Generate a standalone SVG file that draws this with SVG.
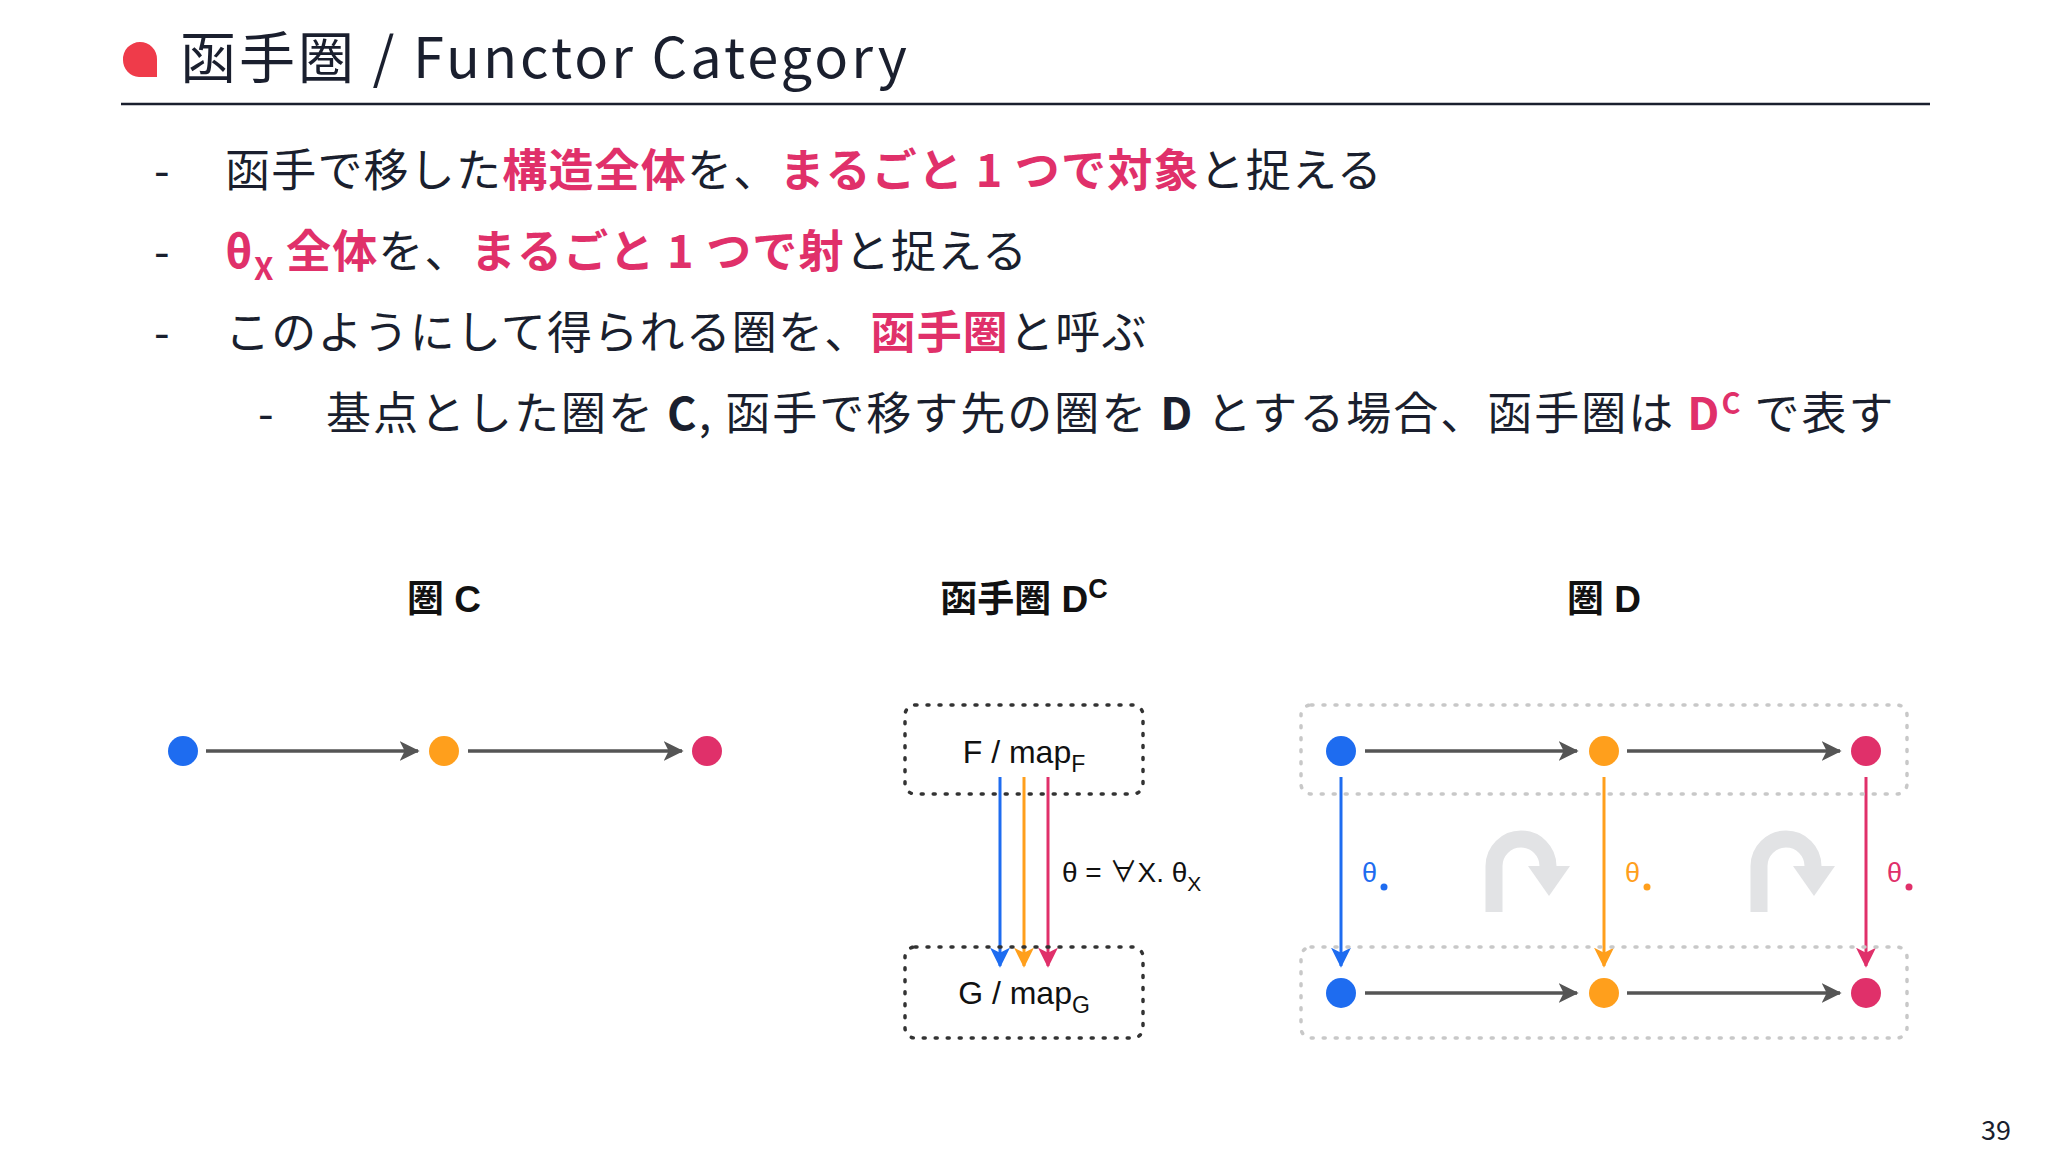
<svg xmlns="http://www.w3.org/2000/svg" width="2048" height="1152" viewBox="0 0 2048 1152">
<style>
.jp{font-family:"Noto Sans CJK JP","Noto Sans",sans-serif;fill:#1a1f2e}
.b{font-weight:bold}
.pk{fill:#e0306a;font-weight:bold}
.lab{font-family:"Liberation Sans",Arial,"Noto Sans CJK JP",sans-serif;fill:#111}
.edge{stroke:#555;stroke-width:3.5;fill:none;marker-end:url(#ag)}
.box{fill:none;stroke:#333;stroke-width:3.5;stroke-dasharray:2 10;stroke-linecap:round}
.gbox{fill:none;stroke:#c8c8c8;stroke-width:3.5;stroke-dasharray:2 10;stroke-linecap:round}
.curl{fill:none;stroke:#e2e3e5;stroke-width:17}
</style>
<defs>
<marker id="ag" viewBox="0 0 12 12" refX="11" refY="6" markerWidth="20" markerHeight="20" orient="auto" markerUnits="userSpaceOnUse"><path d="M0,0 L12,6 L0,12 L3,6 Z" fill="#555"/></marker>
<marker id="ab" viewBox="0 0 12 12" refX="11" refY="6" markerWidth="20" markerHeight="20" orient="auto" markerUnits="userSpaceOnUse"><path d="M0,0 L12,6 L0,12 L3,6 Z" fill="#1e6cf0"/></marker>
<marker id="ao" viewBox="0 0 12 12" refX="11" refY="6" markerWidth="20" markerHeight="20" orient="auto" markerUnits="userSpaceOnUse"><path d="M0,0 L12,6 L0,12 L3,6 Z" fill="#ff9f1c"/></marker>
<marker id="ar" viewBox="0 0 12 12" refX="11" refY="6" markerWidth="20" markerHeight="20" orient="auto" markerUnits="userSpaceOnUse"><path d="M0,0 L12,6 L0,12 L3,6 Z" fill="#e0306a"/></marker>
</defs>
<rect width="2048" height="1152" fill="#fff"/>
<g id="title">
<path d="M140,42 a17,17 0 0 1 17,17 v18 h-18 a17,17 0 0 1 -16,-17 a17,17 0 0 1 17,-18 z" fill="#ef3b4a"/>
<text x="180" y="78" class="jp" font-size="56" letter-spacing="3">函手圏 / Functor Category</text>
<line x1="121" y1="104" x2="1930" y2="104" stroke="#1a1f2e" stroke-width="2.5"/>
</g>
<g id="bullets" font-size="45" letter-spacing="1.2">
<text x="154" y="187" class="jp">-</text>
<text x="225" y="187" class="jp">函手で移した<tspan class="pk">構造全体</tspan>を、<tspan class="pk">まるごと 1 つで対象</tspan>と捉える</text>
<text x="154" y="268" class="jp">-</text>
<text x="225" y="268" class="jp"><tspan class="pk">θ</tspan><tspan class="pk" font-size="31" dy="12">X</tspan><tspan class="pk" dy="-12"> 全体</tspan>を、<tspan class="pk">まるごと 1 つで射</tspan>と捉える</text>
<text x="154" y="349" class="jp">-</text>
<text x="225" y="349" class="jp">このようにして得られる圏を、<tspan class="pk">函手圏</tspan>と呼ぶ</text>
<text x="258" y="430" class="jp">-</text>
<text x="326" y="430" class="jp" letter-spacing="2">基点とした圏を <tspan class="b">C</tspan>,  函手で移す先の圏を <tspan class="b">D</tspan> とする場合、函手圏は <tspan class="pk">D</tspan><tspan class="pk" font-size="29" dy="-16">C</tspan><tspan dy="16"> で表す</tspan></text>
</g>
<g id="headings" font-size="37" font-weight="bold">
<text x="444" y="612" text-anchor="middle" class="lab">圏 C</text>
<text x="1024" y="612" text-anchor="middle" class="lab">函手圏 D<tspan font-size="27" dy="-14">C</tspan></text>
<text x="1604" y="612" text-anchor="middle" class="lab">圏 D</text>
</g>
<g id="connectors">
<line x1="206" y1="751" x2="418" y2="751" class="edge"/>
<line x1="468" y1="751" x2="682" y2="751" class="edge"/>
<line x1="1000" y1="777" x2="1000" y2="966" stroke="#1e6cf0" stroke-width="3" marker-end="url(#ab)"/>
<line x1="1024" y1="777" x2="1024" y2="966" stroke="#ff9f1c" stroke-width="3" marker-end="url(#ao)"/>
<line x1="1048" y1="777" x2="1048" y2="966" stroke="#e0306a" stroke-width="3" marker-end="url(#ar)"/>
<line x1="1365" y1="751" x2="1577" y2="751" class="edge"/>
<line x1="1627" y1="751" x2="1840" y2="751" class="edge"/>
<line x1="1365" y1="993" x2="1577" y2="993" class="edge"/>
<line x1="1627" y1="993" x2="1840" y2="993" class="edge"/>
<line x1="1341" y1="777" x2="1341" y2="966" stroke="#1e6cf0" stroke-width="3" marker-end="url(#ab)"/>
<line x1="1604" y1="777" x2="1604" y2="966" stroke="#ff9f1c" stroke-width="3" marker-end="url(#ao)"/>
<line x1="1866" y1="777" x2="1866" y2="966" stroke="#e0306a" stroke-width="3" marker-end="url(#ar)"/>
</g>
<g id="catC">
<circle cx="183" cy="751" r="15" fill="#1e6cf0"/>
<circle cx="444" cy="751" r="15" fill="#ff9f1c"/>
<circle cx="707" cy="751" r="15" fill="#e0306a"/>
</g>
<g id="nodeF">
<rect x="905" y="705" width="238" height="89" rx="10" class="box"/>
<text x="1024" y="763" text-anchor="middle" class="lab" font-size="32">F / map<tspan font-size="23" dy="9">F</tspan></text>
</g>
<g id="nodeG">
<rect x="905" y="947" width="238" height="91" rx="10" class="box"/>
<text x="1024" y="1004" text-anchor="middle" class="lab" font-size="32">G / map<tspan font-size="23" dy="9">G</tspan></text>
</g>
<text x="1062" y="882" class="lab" font-size="28">θ = ∀X. θ<tspan font-size="21" dy="9">X</tspan></text>
<g id="catD">
<rect x="1301" y="705" width="606" height="89" rx="10" class="gbox"/>
<rect x="1301" y="947" width="606" height="91" rx="10" class="gbox"/>
<circle cx="1341" cy="751" r="15" fill="#1e6cf0"/>
<circle cx="1604" cy="751" r="15" fill="#ff9f1c"/>
<circle cx="1866" cy="751" r="15" fill="#e0306a"/>
<circle cx="1341" cy="993" r="15" fill="#1e6cf0"/>
<circle cx="1604" cy="993" r="15" fill="#ff9f1c"/>
<circle cx="1866" cy="993" r="15" fill="#e0306a"/>
<text x="1362" y="882" class="lab" font-size="27" style="fill:#1e6cf0">θ</text><circle cx="1384" cy="887" r="3.5" fill="#1e6cf0"/>
<text x="1625" y="882" class="lab" font-size="27" style="fill:#ff9f1c">θ</text><circle cx="1647" cy="887" r="3.5" fill="#ff9f1c"/>
<text x="1887" y="882" class="lab" font-size="27" style="fill:#e0306a">θ</text><circle cx="1909" cy="887" r="3.5" fill="#e0306a"/>
<path d="M1494,912 V866 a27,27 0 0 1 54,0 V868" class="curl"/>
<path d="M1528,866 L1570,866 L1549,896 Z" fill="#e2e3e5"/>
<path d="M1759,912 V866 a27,27 0 0 1 54,0 V868" class="curl"/>
<path d="M1793,866 L1835,866 L1814,896 Z" fill="#e2e3e5"/>
</g>
<text x="2011" y="1140" text-anchor="end" class="jp" font-size="27">39</text>
</svg>
